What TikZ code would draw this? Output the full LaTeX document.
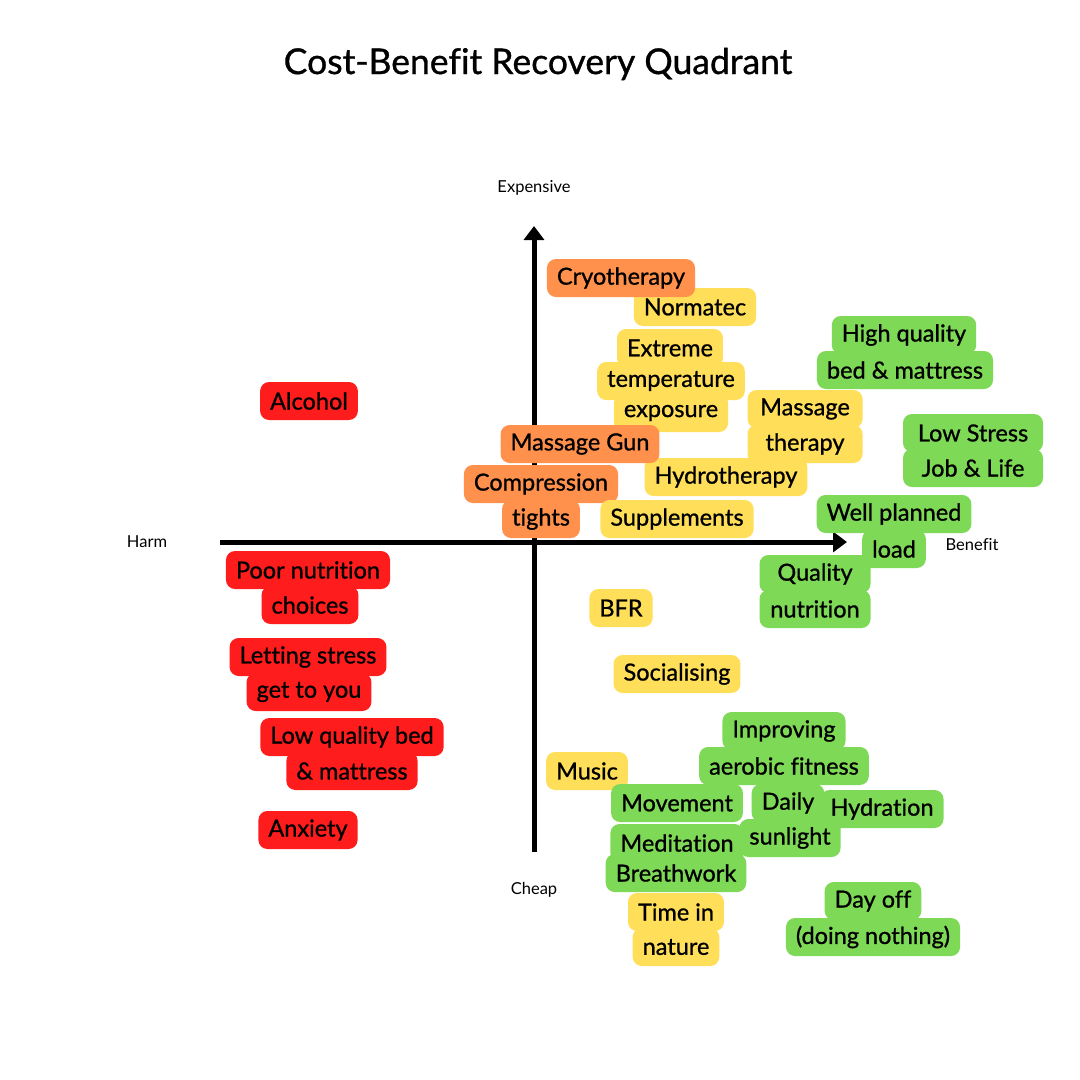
\documentclass[tikz,border=0pt]{standalone}
\usepackage{fontspec}
\setmainfont{Lato}[FakeBold=0.9,Ligatures=NoCommon]
\newfontfamily\plainfont{Lato}[Ligatures=NoCommon]
\usetikzlibrary{arrows.meta}
\definecolor{cred}{HTML}{FF1C1C}
\definecolor{corange}{HTML}{FF914D}
\definecolor{cyellow}{HTML}{FFDE59}
\definecolor{cgreen}{HTML}{7ED957}
\tikzset{
  lbl/.style={rounded corners=9pt, inner xsep=10pt, inner ysep=0pt, minimum height=38pt, text=black, font=\fontsize{23.5}{23.5}\selectfont},
  axislbl/.style={font=\plainfont\fontsize{16.5}{16.5}\selectfont, text=black},
  axis/.style={line width=5pt, -{Triangle[width=20pt,length=14pt]}}
}
\begin{document}
\begin{tikzpicture}[x=1pt,y=-1pt]
\fill[white] (0,0) rectangle (1080,1080);
\useasboundingbox (0,0) rectangle (1080,1080);
\node[font=\fontsize{35.5}{35.5}\selectfont] (title) at (538,64) {Cost-Bene\kern0ptfit Recovery Quadrant};
% axes
\coordinate (hl) at (220,542);
\coordinate (hr) at (847,542);
\coordinate (vb) at (534,852);
\coordinate (vt) at (534,226);
\draw[axis] (hl) -- (hr);
\draw[axis] (vb) -- (vt);
\node[axislbl] (exp) at (534,188) {Expensive};
\node[axislbl] (cheap) at (534,890) {Cheap};
\node[axislbl] (harm) at (147,542) {Harm};
\node[axislbl] (ben) at (972,545) {Bene\kern0ptfit};
% labels
\node[lbl,fill=cyellow] (norma) at (695,307) {Normatec};
\node[lbl,fill=corange] (cryo) at (621,278) {Cryotherapy};
\node[lbl,fill=cyellow] (ext1) at (670,348) {Extreme};
\node[lbl,fill=cyellow] (ext2) at (671,381) {temperature};
\node[lbl,fill=cyellow] (ext3) at (671,413) {exposure};
\node[lbl,fill=cred] (alc) at (309,401) {Alcohol};
\node[lbl,fill=cgreen] (hq1) at (904,335) {High quality};
\node[lbl,fill=cgreen] (hq2) at (905,370) {bed \& mattress};
\node[lbl,fill=cyellow] (hydro) at (726,477) {Hydrotherapy};
\node[lbl,fill=cyellow,minimum width=115pt] (mt1) at (805,409) {Massage};
\node[lbl,fill=cyellow,minimum width=115pt] (mt2) at (805,444) {therapy};
\node[lbl,fill=cgreen,minimum width=140pt] (ls1) at (973,433) {Low Stress};
\node[lbl,fill=cgreen,minimum width=140pt] (ls2) at (973,468) {Job \& Life};
\node[lbl,fill=corange] (gun) at (580,444) {Massage Gun};
\node[lbl,fill=corange] (comp1) at (541,484) {Compression};
\node[lbl,fill=corange] (comp2) at (541,519) {tights};
\node[lbl,fill=cyellow] (supp) at (677,519) {Supplements};
\node[lbl,fill=cgreen] (wp1) at (894,514) {Well planned};
\node[lbl,fill=cgreen] (wp2) at (894,549) {load};
\node[lbl,fill=cgreen,minimum width=111pt] (qn1) at (815,574) {Quality};
\node[lbl,fill=cgreen,minimum width=111pt] (qn2) at (815,609) {nutrition};
\node[lbl,fill=cred] (pn1) at (308,570) {Poor nutrition};
\node[lbl,fill=cred] (pn2) at (310,605) {choices};
\node[lbl,fill=cyellow] (bfr) at (621,608) {BFR};
\node[lbl,fill=cred] (lsg1) at (308,657) {Letting stress};
\node[lbl,fill=cred] (lsg2) at (309,692) {get to you};
\node[lbl,fill=cyellow] (soc) at (677,674) {Socialising};
\node[lbl,fill=cred] (lq1) at (352,737) {Low quality bed};
\node[lbl,fill=cred] (lq2) at (352,771) {\& mattress};
\node[lbl,fill=cgreen] (imp1) at (784,731) {Improving};
\node[lbl,fill=cgreen] (imp2) at (784,766) {aerobic fitness};
\node[lbl,fill=cyellow] (music) at (587,771) {Music};
\node[lbl,fill=cgreen] (ds2) at (790,838) {sunlight};
\node[lbl,fill=cgreen] (ds1) at (788,803) {Daily};
\node[lbl,fill=cgreen] (hyd) at (882,809) {Hydration};
\node[lbl,fill=cgreen] (move) at (677,803) {Movement};
\node[lbl,fill=cgreen] (med) at (677,843) {Meditation};
\node[lbl,fill=cgreen] (breath) at (676,873) {Breathwork};
\node[lbl,fill=cred] (anx) at (308,830) {Anxiety};
\node[lbl,fill=cyellow] (tn1) at (676,912) {Time in};
\node[lbl,fill=cyellow] (tn2) at (676,947) {nature};
\node[lbl,fill=cgreen] (do1) at (873,901) {Day off};
\node[lbl,fill=cgreen] (do2) at (873,937) {(doing nothing)};
\end{tikzpicture}
\end{document}
